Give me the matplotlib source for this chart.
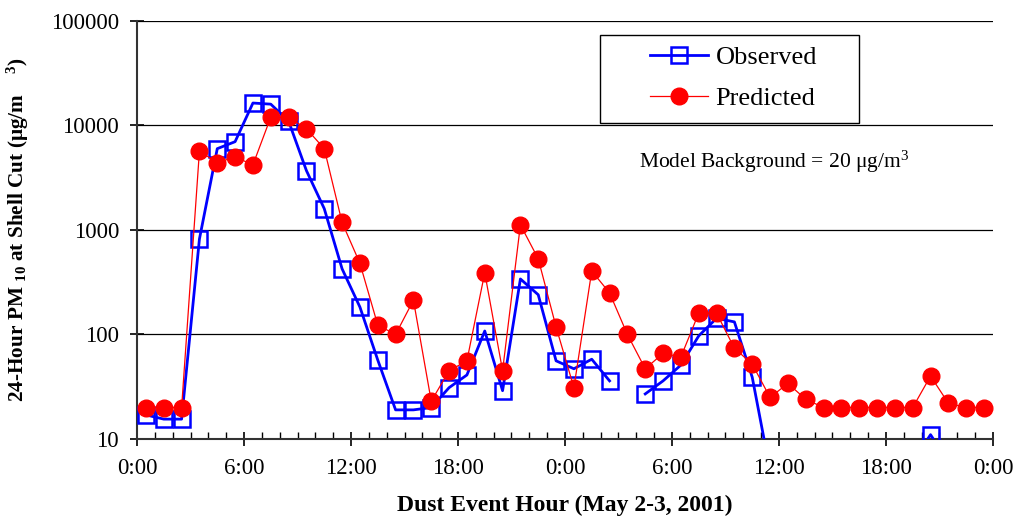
import numpy as np
import matplotlib
matplotlib.use("Agg")
import matplotlib.pyplot as plt
from matplotlib.ticker import FixedLocator, FuncFormatter
from matplotlib.patches import Rectangle

plt.rcParams['font.family'] = ['Liberation Serif', 'DejaVu Serif']
plt.rcParams['mathtext.default'] = 'regular'

hours = np.arange(48) + 0.5

predicted = [20, 20, 20, 5700, 4400, 5000, 4200, 12000, 12000, 9300,
             6000, 1180, 480, 123, 100, 213, 23, 45, 56, 390,
             45, 1120, 530, 118, 31, 405, 250, 100, 47, 66,
             61, 160, 160, 74, 52, 25, 34, 24, 20, 20,
             20, 20, 20, 20, 40, 22, 20, 20]

nan = np.nan
observed = [17, 15.5, 15.5, 820, 6000, 7000, 16400, 16000, 11000, 3700,
            1600, 425, 183, 57, 19, 19, 20, 31, 41, 108,
            29, 340, 240, 56, 47, 58, 36, nan, 27, 36,
            51, 97, 143, 132, 39, 5, nan, nan, nan, nan,
            nan, nan, nan, 6, 11, 6, nan, nan]

xtick_labels = ['0:00', '6:00', '12:00', '18:00', '0:00', '6:00', '12:00', '18:00', '0:00']

fig = plt.figure(figsize=(10.18, 5.18), dpi=100)
ax = fig.add_axes([0.1346, 0.1525, 0.8408, 0.807])

ax.plot(hours, observed, color='#0000FF', lw=2.0, marker='s', ms=11,
        mfc='none', mec='#0000FF', mew=1.8, label='Observed', zorder=3)
ax.plot(hours, predicted, color='#FF0000', lw=0.9, marker='o', ms=12,
        mfc='#FF0000', mec='#FF0000', label='Predicted', zorder=4)

ax.set_yscale('log')
ax.set_ylim(10, 100000)
ax.set_xlim(0, 48)

ax.set_xticks(np.arange(0, 49, 6))
ax.set_xticklabels(xtick_labels)
ax.xaxis.set_minor_locator(FixedLocator(np.arange(0, 49, 1)))
ax.yaxis.set_minor_locator(FixedLocator([]))
ax.yaxis.set_major_formatter(FuncFormatter(lambda v, p: f"{int(round(v))}"))

ax.grid(True, axis='y', which='major', color='black', lw=0.9)
ax.set_axisbelow(True)

for s in ['top', 'right']:
    ax.spines[s].set_visible(False)
for s in ['left', 'bottom']:
    ax.spines[s].set_linewidth(1.5)
    ax.spines[s].set_color('#333333')

ax.tick_params(axis='both', which='major', labelsize=16.5, direction='inout', length=10, width=1.2)
ax.tick_params(axis='x', which='minor', direction='in', length=5, width=1.0)
ax.tick_params(axis='x', which='major', pad=9)
ax.tick_params(axis='y', which='major', pad=8)

ax.set_xlabel('Dust Event Hour (May 2-3, 2001)', fontsize=17, fontweight='bold')
ax.xaxis.set_label_coords(0.5, -0.134)
ax.set_ylabel(r'24-Hour PM $\mathregular{_{10}}$ at Shell Cut (μg/m    $\mathregular{^{3}}$)',
              fontsize=15.3, fontweight='bold', labelpad=14)

# legend box (Excel style: frame wider than content)
ax.add_patch(Rectangle((0.5409, 0.756), 0.3026, 0.2105, transform=ax.transAxes,
                       fill=True, facecolor='white', edgecolor='black', lw=1.0, zorder=5))
leg = ax.legend(loc='center left', bbox_to_anchor=(0.599, 0.8636), fontsize=19,
                frameon=False, borderpad=0, borderaxespad=0, handlelength=2.2,
                labelspacing=0.68, handletextpad=0.3)
leg.set_zorder(6)

ax.text(0.5867, 0.664, r'Model Background = 20 μg/m$\mathregular{^3}$', transform=ax.transAxes,
        fontsize=15.5, ha='left', va='center')

fig.savefig('out.png', dpi=100)
